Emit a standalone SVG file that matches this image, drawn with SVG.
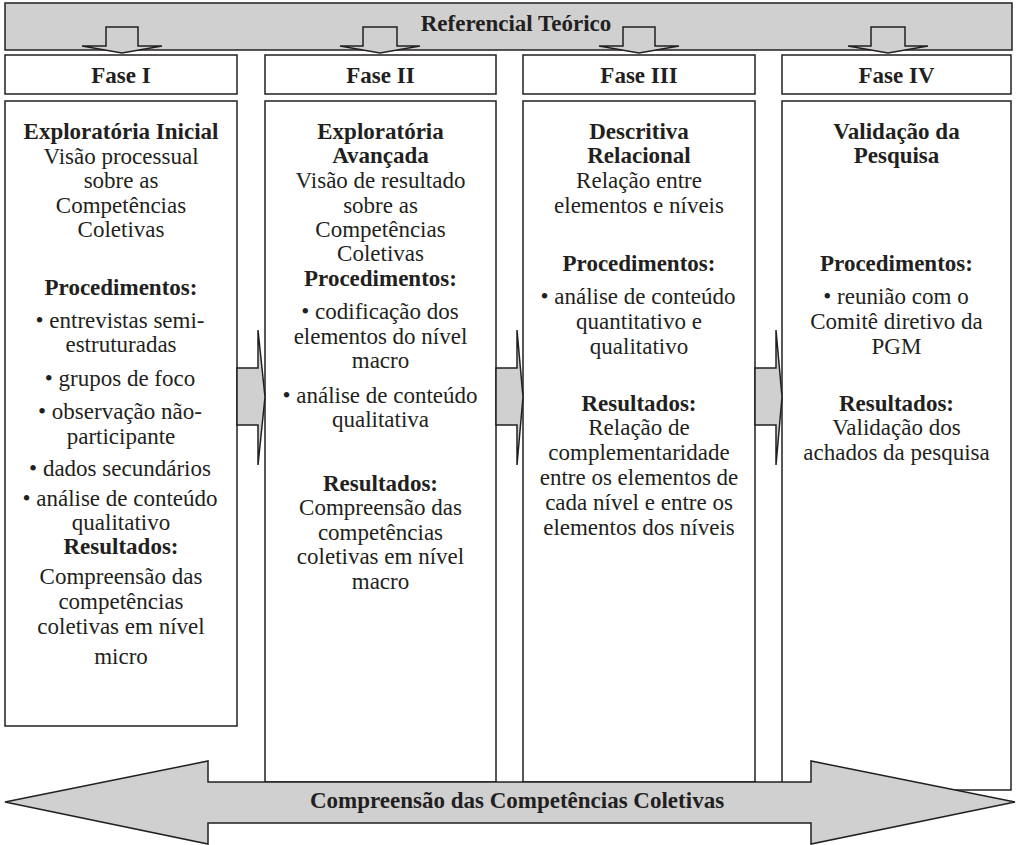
<svg xmlns="http://www.w3.org/2000/svg" width="1016" height="845" viewBox="0 0 1016 845" font-family="Liberation Serif, Tinos, Times New Roman, DejaVu Serif, serif">
<style>
.box{fill:#fff;stroke:#231f20;stroke-width:1.5}
.g{fill:#d0d0d0;stroke:#231f20;stroke-width:1.5;stroke-linejoin:miter}
text{font-family:'Liberation Serif','Tinos','Times New Roman','DejaVu Serif',serif;font-size:23px;fill:#231f20;text-anchor:middle}
.b{font-weight:bold}
</style>
<rect width="1016" height="845" fill="#fff"/>
<g id="referencial">
<rect class="g" x="5" y="3" width="1007" height="47"/>
<text class="b" x="516" y="31">Referencial Teórico</text>
</g>
<g id="fase-headers">
<g id="fase1-header"><rect class="box" x="5" y="55" width="232" height="39"/><text class="b" x="121" y="83">Fase I</text></g>
<g id="fase2-header"><rect class="box" x="265" y="55" width="231" height="39"/><text class="b" x="380.5" y="83">Fase II</text></g>
<g id="fase3-header"><rect class="box" x="523" y="55" width="232" height="39"/><text class="b" x="639" y="83">Fase III</text></g>
<g id="fase4-header"><rect class="box" x="782" y="55" width="229" height="39"/><text class="b" x="896.5" y="83">Fase IV</text></g>
</g>
<g id="fase1">
<rect class="box" x="5" y="101" width="232" height="625"/>
<text class="b" x="121" y="139">Exploratória Inicial</text>
<text x="121" y="164">Visão processual</text>
<text x="121" y="188">sobre as</text>
<text x="121" y="213">Competências</text>
<text x="121" y="237">Coletivas</text>
<text class="b" x="121" y="295">Procedimentos:</text>
<text x="120" y="328">• entrevistas semi-</text>
<text x="121" y="352">estruturadas</text>
<text x="120" y="386">• grupos de foco</text>
<text x="120" y="419">• observação não-</text>
<text x="121" y="444">participante</text>
<text x="120" y="476">• dados secundários</text>
<text x="120" y="506">• análise de conteúdo</text>
<text x="121" y="530">qualitativo</text>
<text class="b" x="121" y="554">Resultados:</text>
<text x="121" y="584">Compreensão das</text>
<text x="121" y="609">competências</text>
<text x="121" y="634">coletivas em nível</text>
<text x="121" y="664">micro</text>
</g>
<g id="fase2">
<rect class="box" x="265" y="101" width="231" height="681"/>
<text class="b" x="380.5" y="139">Exploratória</text>
<text class="b" x="380.5" y="163">Avançada</text>
<text x="380.5" y="188">Visão de resultado</text>
<text x="380.5" y="213">sobre as</text>
<text x="380.5" y="237">Competências</text>
<text x="380.5" y="261">Coletivas</text>
<text class="b" x="380.5" y="286">Procedimentos:</text>
<text x="380" y="319">• codificação dos</text>
<text x="380.5" y="344">elementos do nível</text>
<text x="380.5" y="368">macro</text>
<text x="380" y="403">• análise de conteúdo</text>
<text x="380.5" y="427">qualitativa</text>
<text class="b" x="380.5" y="491">Resultados:</text>
<text x="380.5" y="515">Compreensão das</text>
<text x="380.5" y="540">competências</text>
<text x="380.5" y="564">coletivas em nível</text>
<text x="380.5" y="589">macro</text>
</g>
<g id="fase3">
<rect class="box" x="523" y="101" width="232" height="681"/>
<text class="b" x="639" y="139">Descritiva</text>
<text class="b" x="639" y="163">Relacional</text>
<text x="639" y="188">Relação entre</text>
<text x="639" y="213">elementos e níveis</text>
<text class="b" x="639" y="271">Procedimentos:</text>
<text x="638" y="304">• análise de conteúdo</text>
<text x="639" y="329">quantitativo e</text>
<text x="639" y="354">qualitativo</text>
<text class="b" x="639" y="411">Resultados:</text>
<text x="639" y="435">Relação de</text>
<text x="639" y="460">complementaridade</text>
<text x="639" y="485">entre os elementos de</text>
<text x="639" y="510">cada nível e entre os</text>
<text x="639" y="535">elementos dos níveis</text>
</g>
<g id="fase4">
<rect class="box" x="782" y="101" width="229" height="689"/>
<text class="b" x="896.5" y="139">Validação da</text>
<text class="b" x="896.5" y="163">Pesquisa</text>
<text class="b" x="896.5" y="271">Procedimentos:</text>
<text x="896" y="304">• reunião com o</text>
<text x="896.5" y="329">Comitê diretivo da</text>
<text x="896.5" y="354">PGM</text>
<text class="b" x="896.5" y="411">Resultados:</text>
<text x="896.5" y="435">Validação dos</text>
<text x="896.5" y="460">achados da pesquisa</text>
</g>
<g id="connectors">
<polygon class="g" points="106,27 138,27 138,46 162,46 122,53 82,46 106,46"/>
<polygon class="g" points="363,27 397,27 397,46 420,46 380,53 340,46 363,46"/>
<polygon class="g" points="623,27 655,27 655,46 679,46 639,53 599,46 623,46"/>
<polygon class="g" points="871,27 905,27 905,46 928,46 888,53 848,46 871,46"/>
<polygon class="g" points="237,368 258,368 258,330 265,397 258,465 258,425 237,425"/>
<polygon class="g" points="496,368 517,368 517,330 523,397 517,465 517,425 496,425"/>
<polygon class="g" points="755,368 776,368 776,330 782,397 776,465 776,425 755,425"/>
</g>
<g id="compreensao">
<polygon class="g" points="5,802 208,761 208,782 811,782 811,761 1015,802 811,844 811,823 208,823 208,844"/>
<text class="b" x="517" y="808">Compreensão das Competências Coletivas</text>
</g>
</svg>
